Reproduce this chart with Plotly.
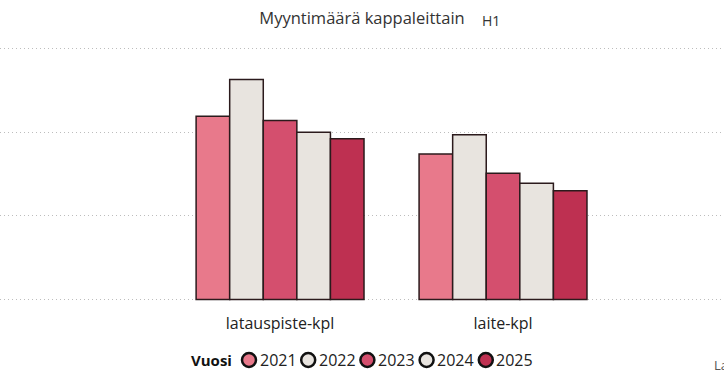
import plotly.graph_objects as go

categories = ["latauspiste-kpl", "laite-kpl"]
years = ["2021", "2022", "2023", "2024", "2025"]
values_2021 = [2.19, 1.74]
values_2022 = [2.63, 1.97]
values_2023 = [2.14, 1.51]
values_2024 = [2.00, 1.39]
values_2025 = [1.92, 1.30]
series = [values_2021, values_2022, values_2023, values_2024, values_2025]
colors = ["#E8798B", "#E8E4DF", "#D44F6E", "#E8E4DF", "#BE3051"]
outline = "#2B1A1C"
font_family = "Open Sans, Noto Sans, sans-serif"

W, H = 724, 379
T, B = 40, 77
PH = H - T - B


def py(p):
    return (H - B - p) / PH


def px(p):
    return p / W


fig = go.Figure()
for yr, vals, col in zip(years, series, colors):
    fig.add_trace(go.Bar(
        x=categories, y=vals, name=yr, showlegend=False,
        marker=dict(color=col, line=dict(color=outline, width=1.5)),
        hoverinfo="skip",
    ))

# custom legend (Power BI style: circle right next to the label)
leg_y = 360
leg_x0 = 249
leg_step = 59.2
r = 8
annotations = [
    dict(text="<b>Vuosi</b>", xref="paper", yref="paper", x=px(189), y=py(leg_y),
         xanchor="left", yanchor="middle", showarrow=False,
         font=dict(size=15, color="#111")),
]
shapes = []
for i, (yr, col) in enumerate(zip(years, colors)):
    cx = leg_x0 + i * leg_step
    shapes.append(dict(type="circle", xref="paper", yref="paper",
                       x0=px(cx - r + 1), x1=px(cx + r - 1),
                       y0=py(leg_y + r - 1), y1=py(leg_y - r + 1),
                       fillcolor=col, line=dict(color="#111", width=2.5)))
    annotations.append(dict(text=yr, xref="paper", yref="paper",
                            x=px(cx + 8.5), y=py(leg_y), xanchor="left",
                            yanchor="middle", showarrow=False,
                            font=dict(size=16, color="#222")))

annotations += [
    dict(text="H1", xref="paper", yref="paper", x=px(491),
         y=py(20), xanchor="center", yanchor="middle",
         showarrow=False, font=dict(size=14, color="#333")),
    dict(text="La", xref="paper", yref="paper", x=px(712),
         y=py(365), xanchor="left", yanchor="middle",
         showarrow=False, font=dict(size=13, color="#555")),
]

fig.update_layout(
    width=W, height=H,
    margin=dict(l=0, r=0, t=T, b=B),
    paper_bgcolor="white", plot_bgcolor="white",
    barmode="group", bargap=0.247, bargroupgap=0,
    showlegend=False,
    font=dict(family=font_family, color="#333"),
    title=dict(text="Myyntimäärä kappaleittain", x=0.5, xanchor="center",
               y=1 - 18 / H, yanchor="middle",
               font=dict(size=16.5, color="#333", family=font_family)),
    xaxis=dict(range=[-1.256, 1.991], showgrid=False, zeroline=False,
               showline=False, ticks="", ticklabelstandoff=10,
               tickfont=dict(size=16, color="#222")),
    yaxis=dict(range=[-0.03, 3.101], dtick=1, showticklabels=False, zeroline=False,
               showgrid=True, gridcolor="#BDBDBD", griddash="1px,3px", gridwidth=1),
    annotations=annotations,
    shapes=shapes,
)
fig.write_html("out.html")
